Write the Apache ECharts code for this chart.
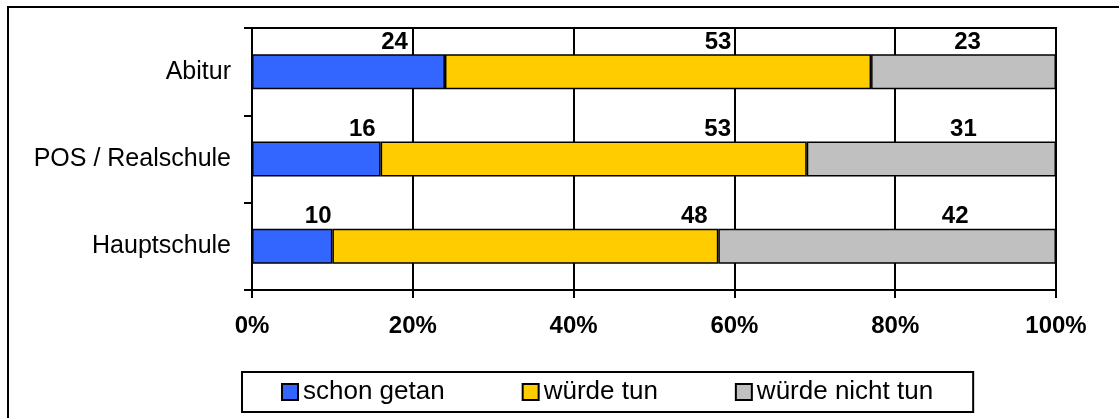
<!DOCTYPE html>
<html>
<head>
<meta charset="utf-8">
<script src="https://cdn.jsdelivr.net/npm/echarts@6/dist/echarts.min.js"></script>
<style>
html,body{margin:0;padding:0;background:#fff;}
#chart{width:1119px;height:418px;}
</style>
</head>
<body>
<div id="chart"></div>
<script>
// ---- data ----
const categories = ['Abitur', 'POS / Realschule', 'Hauptschule'];
const seriesNames = ['schon getan', 'würde tun', 'würde nicht tun'];
const schonGetan = [24, 16, 10];
const wuerdeTun = [53, 53, 48];
const wuerdeNichtTun = [23, 31, 42];
const xTicks = [0, 20, 40, 60, 80, 100];

// ---- styling / layout (not data) ----
const colors = ['#3366FF', '#FFCC00', '#C0C0C0'];
const labelShift = [[46, 46, 26], [60, 124, 169], [4, 32, 68]];
const FONT = 'Arial, "Liberation Sans", sans-serif';

const values = [schonGetan, wuerdeTun, wuerdeNichtTun];

const chart = echarts.init(document.getElementById('chart'), null, {renderer: 'canvas'});

const series = seriesNames.map((name, si) => ({
  name: name,
  type: 'bar',
  stack: 'total',
  barWidth: 35,
  itemStyle: {color: colors[si], borderColor: '#000', borderWidth: 1.5},
  label: {
    show: true,
    position: 'top',
    distance: 0,
    color: '#000',
    fontFamily: FONT,
    fontWeight: 'bold',
    fontSize: 24,
    formatter: p => String(p.value)
  },
  emphasis: {disabled: true},
  data: values[si].map((v, ci) => ({value: v, label: {offset: [labelShift[si][ci], 0]}}))
}));

chart.setOption({
  animation: false,
  backgroundColor: '#fff',
  graphic: [{
    type: 'rect',
    shape: {x: 8, y: 7, width: 1200, height: 500},
    style: {fill: null, stroke: '#000', lineWidth: 2},
    silent: true,
    z: -1
  }],
  grid: {
    left: 252, right: 63, top: 28, bottom: 128,
    show: true, borderColor: '#000', borderWidth: 2, backgroundColor: 'transparent'
  },
  legend: {
    data: seriesNames,
    left: 242, top: 372,
    orient: 'horizontal',
    padding: [7, 40, 7, 39],
    itemGap: 77,
    itemWidth: 16, itemHeight: 16,
    icon: 'rect',
    borderColor: '#000', borderWidth: 2,
    itemStyle: {borderColor: '#000', borderWidth: 2},
    textStyle: {fontFamily: FONT, fontSize: 26, color: '#000', padding: [0, 0, 0, 0]},
    selectedMode: false
  },
  xAxis: {
    type: 'value',
    min: xTicks[0], max: xTicks[xTicks.length - 1], interval: xTicks[1] - xTicks[0],
    axisLine: {show: true, lineStyle: {color: '#000', width: 2}},
    axisTick: {show: true, length: 8, lineStyle: {color: '#000', width: 2}},
    splitLine: {show: true, lineStyle: {color: '#000', width: 2}},
    axisLabel: {
      formatter: '{value}%', margin: 24,
      fontFamily: FONT, fontWeight: 'bold', fontSize: 24, color: '#000'
    }
  },
  yAxis: {
    type: 'category',
    data: categories,
    inverse: true,
    axisLine: {show: true, lineStyle: {color: '#000', width: 2}},
    axisTick: {show: true, length: 8, alignWithLabel: false, interval: 0, lineStyle: {color: '#000', width: 2}},
    splitLine: {show: false},
    axisLabel: {margin: 21, fontFamily: FONT, fontSize: 25, color: '#000'}
  },
  series: series
});
</script>
</body>
</html>
